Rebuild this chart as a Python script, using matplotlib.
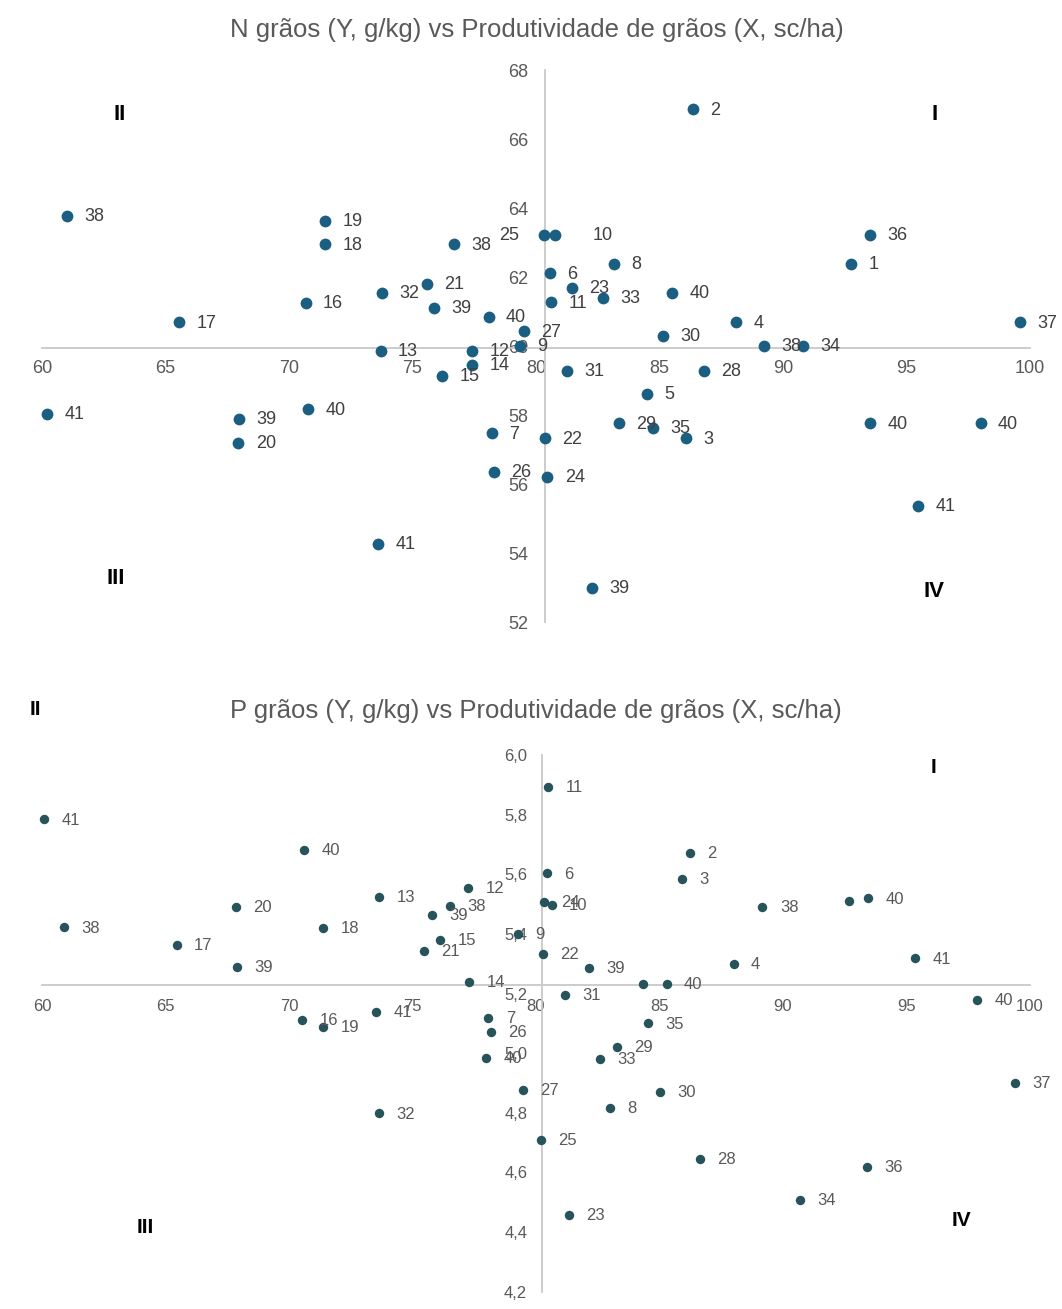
import matplotlib
matplotlib.use("Agg")
import matplotlib.pyplot as plt
from matplotlib.ticker import FuncFormatter

# N grãos (Y, g/kg) x Produtividade (X, sc/ha)
n_x = [61.00, 71.46, 71.46, 76.68, 80.31, 80.78, 75.59, 73.75, 70.67, 75.86,
       78.08, 65.55, 79.50, 79.36, 73.71, 77.41, 77.41, 76.19, 86.34, 93.53,
       92.75, 83.14, 80.57, 81.45, 82.72, 85.50, 80.60, 88.11, 99.59, 85.13,
       89.25, 90.82, 81.26, 86.79, 84.51, 60.20, 67.99, 70.77, 67.95, 78.20,
       78.31, 73.60, 83.37, 84.72, 86.06, 80.36, 80.46, 93.53, 98.00, 95.47,
       82.28]
n_y = [63.77, 63.63, 62.95, 62.95, 63.22, 63.22, 61.81, 61.54, 61.26, 61.11,
       60.84, 60.69, 60.43, 60.00, 59.86, 59.86, 59.45, 59.15, 66.86, 63.22,
       62.38, 62.38, 62.11, 61.68, 61.40, 61.54, 61.27, 60.69, 60.69, 60.29,
       60.00, 60.00, 59.29, 59.29, 58.62, 58.03, 57.90, 58.17, 57.19, 57.47,
       56.36, 54.26, 57.76, 57.63, 57.33, 57.33, 56.22, 57.76, 57.76, 55.37,
       53.00]
n_lab = ['38', '19', '18', '38', '25', '10', '21', '32', '16', '39',
         '40', '17', '27', '9', '13', '12', '14', '15', '2', '36',
         '1', '8', '6', '23', '33', '40', '11', '4', '37', '30',
         '38', '34', '31', '28', '5', '41', '39', '40', '20', '7',
         '26', '41', '29', '35', '3', '22', '24', '40', '40', '41',
         '39']

# P grãos (Y, g/kg) x Produtividade (X, sc/ha)
p_x = [60.08, 70.62, 67.85, 60.89, 71.38, 65.45, 67.89, 73.65, 77.26, 75.78,
       76.52, 76.11, 75.47, 79.28, 80.32, 80.63, 80.43, 80.49, 86.22, 85.92,
       89.17, 92.67, 93.45, 95.34, 80.27, 82.16, 88.00, 77.29, 84.32, 85.29,
       81.17, 97.87, 70.54, 71.38, 73.54, 78.07, 78.17, 77.98, 79.46, 84.55,
       83.27, 82.59, 85.02, 83.00, 73.64, 80.19, 86.63, 93.39, 90.67, 81.34,
       99.40]
p_y = [5.784, 5.681, 5.491, 5.422, 5.421, 5.362, 5.290, 5.523, 5.553, 5.463,
       5.494, 5.380, 5.343, 5.400, 5.506, 5.497, 5.603, 5.892, 5.672, 5.584,
       5.491, 5.511, 5.519, 5.318, 5.332, 5.285, 5.299, 5.240, 5.232, 5.232,
       5.195, 5.178, 5.111, 5.089, 5.139, 5.119, 5.070, 4.983, 4.877, 5.100,
       5.022, 4.981, 4.869, 4.817, 4.798, 4.709, 4.645, 4.619, 4.508, 4.457,
       4.899]
p_lab = ['41', '40', '20', '38', '18', '17', '39', '13', '12', '39',
         '38', '15', '21', '9', '24', '10', '6', '11', '2', '3',
         '38', '', '40', '41', '22', '39', '4', '14', '', '40',
         '31', '40', '16', '19', '41', '7', '26', '40', '27', '35',
         '29', '33', '30', '8', '32', '25', '28', '36', '34', '23',
         '37']

x_ticks = [60, 65, 70, 75, 80, 85, 90, 95, 100]
n_ticks = [52, 54, 56, 58, 60, 62, 64, 66, 68]
p_ticks = [4.2, 4.4, 4.6, 4.8, 5.0, 5.2, 5.4, 5.6, 5.8, 6.0]
quadrants = ['I', 'II', 'III', 'IV']

plt.rcParams['font.family'] = ['Liberation Sans', 'DejaVu Sans']

fig = plt.figure(figsize=(10.62, 13.09), dpi=100)
fig.patch.set_facecolor('white')


def setup(ax, ylim, cross_x, cross_y, yticks, fs, pad_x, pad_y):
    ax.set_xlim(60, 100)
    ax.set_ylim(*ylim)
    for s in ['top', 'right']:
        ax.spines[s].set_visible(False)
    ax.spines['left'].set_position(('data', cross_x))
    ax.spines['bottom'].set_position(('data', cross_y))
    for s in ['left', 'bottom']:
        ax.spines[s].set_color('#c8c8c8')
        ax.spines[s].set_linewidth(1.3)
    ax.set_xticks(x_ticks)
    ax.set_yticks(yticks)
    ax.tick_params(length=0, labelcolor='#595959', labelsize=fs)
    ax.tick_params(axis='x', pad=pad_x)
    ax.tick_params(axis='y', pad=pad_y)
    ax.patch.set_alpha(0)


# ---- N grãos
ax1 = fig.add_axes([0.03955, 0.5246, 0.9303, 0.4219])
setup(ax1, (52, 68), 80.36, 59.95, n_ticks, 13, 9, 12)
ax1.scatter(n_x, n_y, s=72, color='#1a5e82', zorder=3, linewidths=0, clip_on=False)
shift = {4: -18, 5: 27}
for i, (x, y, lab) in enumerate(zip(n_x, n_y, n_lab)):
    dx = shift.get(i, 12.5)
    ax1.annotate(lab, (x, y), xytext=(dx, -0.5), textcoords='offset points',
                 va='center', ha='left' if dx > 0 else 'right',
                 fontsize=13, color='#404040', zorder=4)
fig.text(0.5056, 0.977, 'N grãos (Y, g/kg) vs Produtividade de grãos (X, sc/ha)',
         ha='center', va='center', fontsize=18.5, color='#595959')
for q, (fx, fy) in zip(quadrants, [(0.903, 0.919), (0.079, 0.920),
                                   (0.075, 0.080), (0.903, 0.055)]):
    ax1.text(fx, fy, q, transform=ax1.transAxes, ha='center', va='center',
             fontsize=16, fontweight='bold', color='black')

# ---- P grãos
ax2 = fig.add_axes([0.03955, 0.01322, 0.9303, 0.41])
setup(ax2, (4.2, 6.0), 80.26, 5.229, p_ticks, 12, 10, 11)
ax2.yaxis.set_major_formatter(FuncFormatter(lambda v, p: f'{v:.1f}'.replace('.', ',')))
ax2.scatter(p_x, p_y, s=46, color='#27535a', zorder=3, linewidths=0, clip_on=False)
for x, y, lab in zip(p_x, p_y, p_lab):
    ax2.annotate(lab, (x, y), xytext=(12.5, -0.5), textcoords='offset points',
                 va='center', ha='left', fontsize=12, color='#595959', zorder=4)
fig.text(0.505, 0.4568, 'P grãos (Y, g/kg) vs Produtividade de grãos (X, sc/ha)',
         ha='center', va='center', fontsize=18.5, color='#595959')
for q, (fx, fy) in zip(quadrants, [(0.902, 0.976), (-0.007, 1.084),
                                   (0.104, 0.119), (0.931, 0.132)]):
    ax2.text(fx, fy, q, transform=ax2.transAxes, ha='center', va='center',
             fontsize=15, fontweight='bold', color='black', clip_on=False)

fig.savefig('out.png', dpi=100)
